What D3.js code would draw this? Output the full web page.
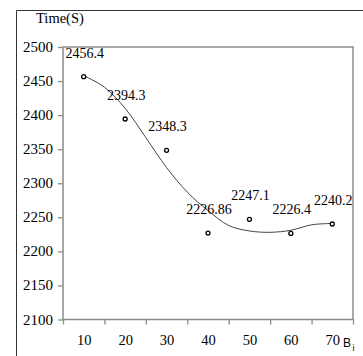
<!DOCTYPE html>
<html>
<head>
<meta charset="utf-8">
<script src="https://cdn.jsdelivr.net/npm/d3@7"></script>
<style>
  html, body { margin: 0; padding: 0; background: #fff; }
  svg { display: block; }
</style>
</head>
<body>
<div id="wrapper"></div>
<script>
// 1. Data
const xValues = [10, 20, 30, 40, 50, 60, 70]
const times = [2456.4, 2394.3, 2348.3, 2226.86, 2247.1, 2226.4, 2240.2]
const pointLabels = ["2456.4", "2394.3", "2348.3", "2226.86", "2247.1", "2226.4", "2240.2"]
const yTicks = [2100, 2150, 2200, 2250, 2300, 2350, 2400, 2450, 2500]
// fitted trend curve
const trendX = [10, 15, 20, 25, 30, 35, 40, 45, 50, 55, 60, 65, 70]
const trendY = [2458, 2441, 2410, 2367, 2323, 2287, 2260, 2238, 2230, 2228, 2231, 2239, 2241]

const serif = "'Liberation Serif', 'DejaVu Serif'"

// 2. Dimensions
const dimensions = {
    width: 363,
    height: 356,
    margin: { top: 47, right: 10, bottom: 36.5, left: 63 },
}
dimensions.boundedWidth = dimensions.width - dimensions.margin.left - dimensions.margin.right
dimensions.boundedHeight = dimensions.height - dimensions.margin.top - dimensions.margin.bottom

// 3. Canvas
const svg = d3.select("#wrapper")
    .append("svg")
    .attr("width", dimensions.width)
    .attr("height", dimensions.height)
    .attr("font-family", serif)

// outer frame (cut off at right and bottom)
svg.append("path")
    .attr("d", "M16.5,356 V10.5 H363")
    .attr("fill", "none")
    .attr("stroke", "#333")
    .attr("stroke-width", 1)

const bounds = svg.append("g")
    .attr("transform", `translate(${dimensions.margin.left},${dimensions.margin.top})`)

// 4. Scales
const xScale = d3.scaleLinear()
    .domain([5, 75])
    .range([0, dimensions.boundedWidth])

const yScale = d3.scaleLinear()
    .domain([2100, 2500])
    .range([dimensions.boundedHeight, 0])

// plot frame
bounds.append("rect")
    .attr("width", dimensions.boundedWidth)
    .attr("height", dimensions.boundedHeight)
    .attr("fill", "none")
    .attr("stroke", "#8c8c8c")
    .attr("stroke-width", 1.5)

// 5. Axes
const yAxis = bounds.append("g")
    .call(d3.axisLeft(yScale)
        .tickValues(yTicks)
        .tickFormat(d3.format("d"))
        .tickSize(5)
        .tickPadding(5))
yAxis.attr("font-family", serif).attr("font-size", 15)
yAxis.select(".domain").remove()
yAxis.selectAll("line").attr("stroke", "#8c8c8c").attr("stroke-width", 1.3)
yAxis.selectAll("text").attr("dy", "0.3em").attr("fill", "#000")

const xTickAxis = bounds.append("g")
    .attr("transform", `translate(0,${dimensions.boundedHeight})`)
    .call(d3.axisBottom(xScale)
        .tickValues(d3.range(5, 76, 10))
        .tickSize(5)
        .tickFormat(""))
xTickAxis.select(".domain").remove()
xTickAxis.selectAll("line").attr("stroke", "#8c8c8c").attr("stroke-width", 1.3)

const xAxis = bounds.append("g")
    .attr("transform", `translate(0,${dimensions.boundedHeight})`)
    .call(d3.axisBottom(xScale).tickValues(xValues).tickSize(0).tickPadding(15))
xAxis.attr("font-family", serif).attr("font-size", 14.5)
xAxis.select(".domain").remove()
xAxis.selectAll("text").attr("fill", "#000")

// axis titles
svg.append("text")
    .attr("x", 36)
    .attr("y", 23)
    .attr("font-size", 14.5)
    .text("Time(S)")

const bLabel = svg.append("text")
    .attr("x", 343)
    .attr("y", 347)
    .attr("font-family", "'Liberation Sans', Arial, sans-serif")
    .attr("font-size", 12)
bLabel.append("tspan").text("B")
bLabel.append("tspan")
    .attr("dx", 1.5)
    .attr("dy", 4)
    .attr("font-size", 9)
    .text("i")

// 6. Trend line
const line = d3.line()
    .x((d, i) => xScale(trendX[i]))
    .y(d => yScale(d))
    .curve(d3.curveCatmullRom)

bounds.append("path")
    .datum(trendY)
    .attr("d", line)
    .attr("fill", "none")
    .attr("stroke", "#444")
    .attr("stroke-width", 1)

// 7. Points and labels
bounds.selectAll("circle")
    .data(times)
    .join("circle")
    .attr("cx", (d, i) => xScale(xValues[i]))
    .attr("cy", d => yScale(d))
    .attr("r", 2)
    .attr("fill", "#fff")
    .attr("stroke", "#000")
    .attr("stroke-width", 1.3)

bounds.selectAll("text.point-label")
    .data(times)
    .join("text")
    .attr("class", "point-label")
    .attr("x", (d, i) => xScale(xValues[i]) + 1)
    .attr("y", d => yScale(d) - 19)
    .attr("text-anchor", "middle")
    .attr("font-size", 14)
    .text((d, i) => pointLabels[i])
</script>
</body>
</html>
